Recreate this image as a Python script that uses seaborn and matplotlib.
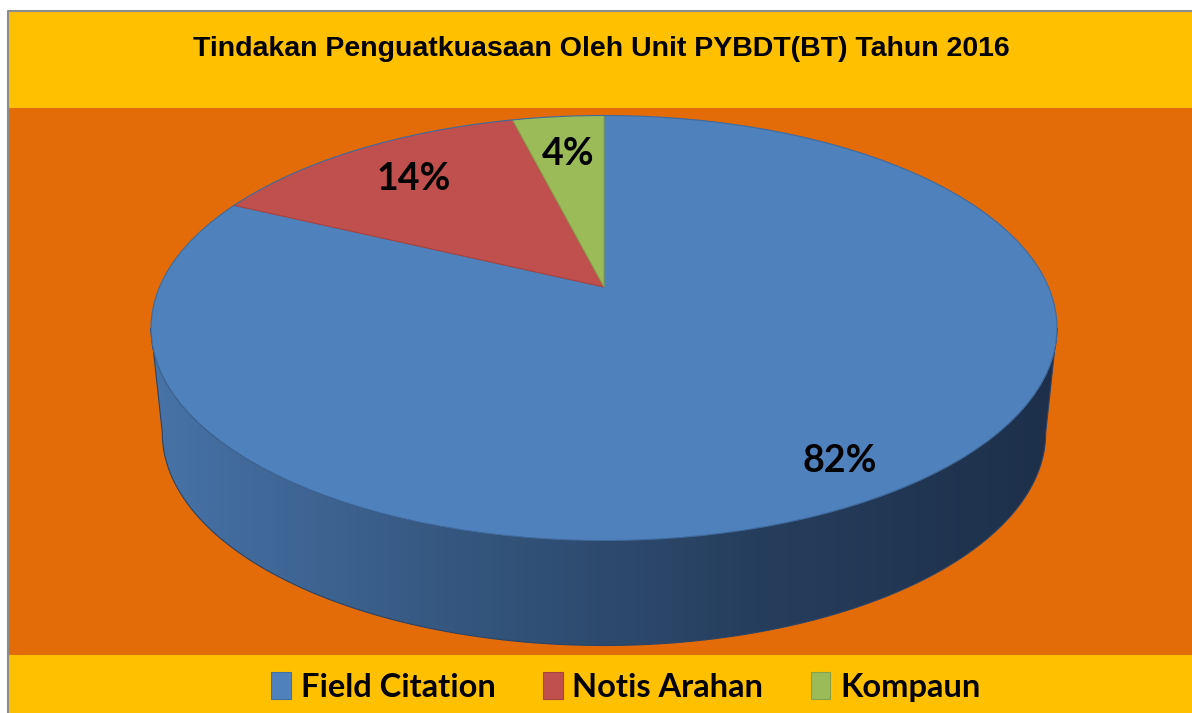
import numpy as np
import matplotlib
matplotlib.use("Agg")
import matplotlib.pyplot as plt
from matplotlib.patches import Ellipse, Rectangle, Polygon
from matplotlib.colors import LinearSegmentedColormap
import seaborn as sns

# data
categories = ["Field Citation", "Notis Arahan", "Kompaun"]
shares = [82, 14, 4]
title = "Tindakan Penguatkuasaan Oleh Unit PYBDT(BT) Tahun 2016"

slice_colors = ["#4F81BD", "#C0504D", "#9BBB59"]
edge_colors = ["#42719F", "#A9433F", "#85A24A"]
YELLOW = "#FFC000"
ORANGE = "#E36C09"

sns.set_theme(style="white")
plt.rcParams["font.family"] = ["Lato", "DejaVu Sans"]
plt.rcParams["text.color"] = "black"

W, H = 1192, 713
fig = plt.figure(figsize=(W / 100, H / 100), dpi=100)
fig.patch.set_facecolor("white")

# background bands, in pixel coordinates
bg = fig.add_axes([0, 0, 1, 1])
bg.set_xlim(0, W)
bg.set_ylim(H, 0)
bg.axis("off")
bg.add_patch(Rectangle((8, 11), W - 8, 97, fc=YELLOW, ec="none"))
bg.add_patch(Rectangle((8, 108), W - 8, 547, fc=ORANGE, ec="none"))
bg.add_patch(Rectangle((8, 655), W - 8, H - 655, fc=YELLOW, ec="none"))
bg.plot([8, 8, W], [H, 11, 11], color="#8C8C8C", lw=1.5)
bg.text(601, 49, title, ha="center", va="center", fontsize=20.5,
        fontweight="bold", color="black",
        family=["Liberation Sans", "DejaVu Sans"])

# pie axes: top face is an ellipse centred at (604, 328) px
cx, cy, rx, ry = 604, 328, 453, 212.5
depth = 105 / ry
pad = 0.05
left = cx - (1 + pad) * rx
top = cy - (1 + pad) * ry
bottom = cy + (1 + depth + pad) * ry
ax = fig.add_axes([left / W, (H - bottom) / H, 2 * (1 + pad) * rx / W,
                   (bottom - top) / H])

# vertex sits above the ellipse centre (perspective)
vy = 41 / ry
wedges, texts, autotexts = ax.pie(
    shares, colors=slice_colors, startangle=90, counterclock=False,
    radius=1.6, center=(0, vy), autopct="%d%%", pctdistance=0.5,
    wedgeprops=dict(linewidth=0.8),
    textprops=dict(fontsize=27, fontweight="bold", color="black"))
ax.set_aspect("auto")
ax.axis("off")

face = Ellipse((0, 0), 2, 2, fc="none", ec="#3F6A9C", lw=0.8, zorder=3)
ax.add_patch(face)
for w, ec in zip(wedges, edge_colors):
    w.set_edgecolor(ec)
    w.set_clip_path(face)
    w.set_clip_on(True)
    w.set_zorder(2)

# cylinder side (front half is all the first slice)
t = np.linspace(np.pi, 2 * np.pi, 200)
rb = 0.975
side_xy = np.vstack([
    np.column_stack([np.cos(t), np.sin(t)]),
    np.column_stack([rb * np.cos(t[::-1]), np.sin(t[::-1]) - depth]),
])
side = Polygon(side_xy, closed=True, fc="none", ec="#2B4466", lw=0.8, zorder=1.5)
ax.add_patch(side)
side_cmap = LinearSegmentedColormap.from_list(
    "side", ["#4773A8", "#35577F", "#263E5D", "#1D2F4A"])
grad = ax.imshow(np.linspace(0, 1, 256)[None, :], cmap=side_cmap,
                 extent=[-1, 1, -1 - depth, 0], aspect="auto", zorder=1)
grad.set_clip_path(side)
ax.set_xlim(-1 - pad, 1 + pad)
ax.set_ylim(-1 - depth - pad, 1 + pad)

# percentage labels
label_r = [0.97, 0.66, 0.63]
for w, txt, r in zip(wedges, autotexts, label_r):
    mid = np.deg2rad((w.theta1 + w.theta2) / 2)
    txt.set_position((r * np.cos(mid), vy + r * np.sin(mid)))
    txt.set_zorder(5)

leg = fig.legend(wedges, categories, loc="center", ncol=3,
                 bbox_to_anchor=(626 / W, 1 - 687 / H), frameon=False,
                 prop=dict(size=23.5, weight="bold"), handlelength=0.6,
                 handleheight=0.9, handletextpad=0.3, columnspacing=1.45)
for txt in leg.get_texts():
    txt.set_color("black")

fig.savefig("out.png", dpi=100)
